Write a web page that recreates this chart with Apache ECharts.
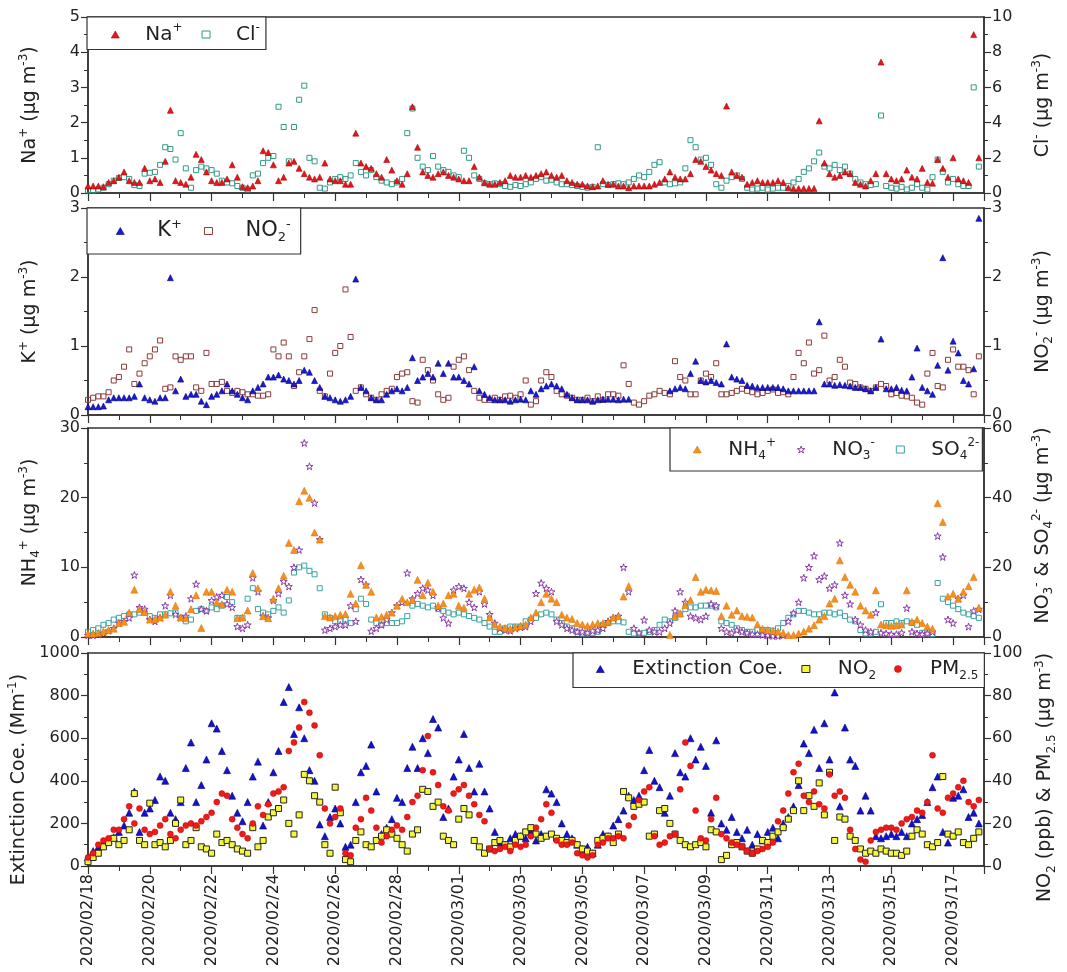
<!DOCTYPE html>
<html>
<head>
<meta charset="utf-8">
<script src="https://cdn.jsdelivr.net/npm/echarts@6/dist/echarts.min.js"></script>
<style>
  html, body { margin: 0; padding: 0; background: #fff; }
  #main { width: 1067px; height: 972px; }
</style>
</head>
<body>
<div id="main"></div>
<script>
var FONT = 'DejaVu Sans';
var TXT = '#222';

// x tick labels (every second day from 2020/02/18)
var dateLabels = ['2020/02/18', '2020/02/20', '2020/02/22', '2020/02/24', '2020/02/26', '2020/02/28',
  '2020/03/01', '2020/03/03', '2020/03/05', '2020/03/07', '2020/03/09', '2020/03/11',
  '2020/03/13', '2020/03/15', '2020/03/17'];

// 4-hourly samples, one row per day starting 2020/02/18 00:00
var naPlus = [
  0.2,0.2,0.2,0.18,0.3,0.35,
  0.45,0.6,0.35,0.3,0.3,0.7,
  0.35,0.4,0.3,0.9,2.35,0.35,
  0.3,0.25,0.45,1.1,0.95,0.6,
  0.35,0.3,0.3,0.4,0.8,0.45,
  0.18,0.15,0.2,0.35,1.2,1.15,
  0.8,0.35,0.45,0.85,0.9,0.7,
  0.55,0.45,0.4,0.45,0.85,0.4,
  0.35,0.35,0.25,0.25,1.7,0.85,
  0.75,0.7,0.55,0.45,0.95,0.65,
  0.35,0.25,0.55,2.45,1.3,0.6,
  0.5,0.45,0.55,0.6,0.5,0.45,
  0.4,0.35,0.35,0.75,0.45,0.3,
  0.25,0.25,0.3,0.35,0.5,0.45,
  0.45,0.5,0.45,0.5,0.55,0.6,
  0.5,0.45,0.5,0.35,0.3,0.25,
  0.25,0.2,0.18,0.2,0.35,0.25,
  0.25,0.2,0.2,0.15,0.2,0.2,
  0.2,0.2,0.25,0.3,0.4,0.6,
  0.45,0.4,0.4,0.55,0.95,0.9,
  0.75,0.65,0.55,0.5,2.47,0.6,
  0.5,0.45,0.25,0.3,0.35,0.3,
  0.3,0.3,0.35,0.3,0.15,0.13,
  0.13,0.13,0.13,0.13,2.05,0.85,
  0.55,0.45,0.5,0.6,0.55,0.3,
  0.25,0.2,0.35,0.55,3.72,0.55,
  0.4,0.35,0.4,0.65,0.45,0.4,
  0.7,0.3,0.28,0.95,0.7,0.45,
  1.0,0.4,0.35,0.3,4.5,1.0
];

var clMinus = [
  0.15,0.15,0.2,0.3,0.5,0.7,
  0.85,0.9,0.8,0.45,0.4,1.1,
  1.15,1.2,1.6,2.6,2.5,1.9,
  3.4,1.4,0.3,1.3,1.5,1.4,
  1.3,1.1,0.7,0.6,0.55,0.4,
  0.3,0.2,1.0,1.1,1.7,2.0,
  2.1,4.9,3.75,1.8,3.75,5.3,
  6.1,2.0,1.8,0.3,0.25,0.6,
  0.8,0.9,0.8,1.0,1.7,1.2,
  1.0,1.3,0.9,0.7,0.6,0.5,
  0.6,0.8,3.4,4.8,2.0,1.5,
  1.3,2.1,1.5,1.3,1.2,1.0,
  0.9,2.4,2.0,1.0,0.8,0.55,
  0.5,0.55,0.5,0.4,0.35,0.45,
  0.4,0.5,0.6,0.8,0.9,0.7,
  0.75,0.6,0.5,0.5,0.45,0.4,
  0.35,0.3,0.35,2.6,0.5,0.45,
  0.5,0.55,0.5,0.6,0.8,1.0,
  0.9,1.2,1.6,1.75,0.6,0.5,
  0.55,0.6,1.4,3.0,2.6,1.9,
  2.0,1.6,0.5,0.3,0.7,0.9,
  1.0,0.8,0.3,0.2,0.25,0.3,
  0.2,0.25,0.3,0.3,0.4,0.6,
  0.8,1.2,1.4,1.8,2.3,1.5,
  1.4,1.6,1.3,1.5,1.1,0.8,
  0.6,0.5,0.45,0.5,4.4,0.4,
  0.3,0.25,0.35,0.2,0.3,0.5,
  0.3,0.2,0.9,1.9,1.2,0.6,
  0.8,0.5,0.4,0.4,6.0,1.5
];

var kPlus = [
  0.12,0.12,0.12,0.13,0.22,0.25,
  0.25,0.25,0.25,0.27,0.45,0.25,
  0.22,0.2,0.25,0.25,1.99,0.35,
  0.52,0.27,0.3,0.3,0.2,0.15,
  0.27,0.3,0.35,0.45,0.35,0.3,
  0.25,0.22,0.35,0.4,0.45,0.55,
  0.55,0.58,0.52,0.5,0.45,0.5,
  0.65,0.62,0.5,0.4,0.27,0.25,
  0.22,0.2,0.22,0.27,1.97,0.4,
  0.35,0.25,0.22,0.22,0.3,0.35,
  0.38,0.35,0.4,0.83,0.5,0.55,
  0.6,0.55,0.75,0.6,0.75,0.55,
  0.55,0.5,0.45,0.7,0.35,0.3,
  0.25,0.22,0.22,0.22,0.2,0.22,
  0.23,0.22,0.35,0.3,0.38,0.42,
  0.45,0.42,0.38,0.3,0.25,0.22,
  0.22,0.22,0.2,0.22,0.23,0.23,
  0.23,0.22,0.23,0.23,null,null,
  null,null,null,null,null,0.35,
  0.38,0.4,0.38,0.6,0.78,0.5,
  0.48,0.5,0.47,0.45,1.03,0.55,
  0.52,0.5,0.43,0.42,0.4,0.4,
  0.4,0.4,0.4,0.38,0.35,0.35,
  0.35,0.35,0.35,0.35,1.35,0.45,
  0.45,0.43,0.44,0.43,0.42,0.4,
  0.4,0.38,0.35,0.4,1.1,0.38,
  0.38,0.4,0.36,0.35,0.55,0.97,
  0.4,0.35,0.3,0.72,2.28,0.65,
  1.07,0.9,0.5,0.45,0.67,2.85
];

var no2Minus = [
  0.22,0.25,0.27,0.27,0.33,0.5,
  0.55,0.7,0.95,0.45,0.6,0.75,
  0.85,0.95,1.08,0.38,0.4,0.85,
  0.8,0.85,0.85,0.4,0.35,0.9,
  0.45,0.45,0.48,0.35,0.32,0.35,
  0.33,0.3,0.3,0.28,0.28,0.3,
  0.95,0.85,1.05,0.85,0.42,0.62,
  0.85,1.1,1.52,0.35,0.27,0.6,
  0.9,1.0,1.82,1.13,0.35,0.4,
  0.3,0.25,0.22,0.3,0.35,0.38,
  0.55,0.6,0.62,0.2,0.18,0.8,
  0.65,0.5,0.3,0.22,0.25,0.7,
  0.8,0.85,0.65,0.35,0.25,0.22,
  0.22,0.25,0.22,0.27,0.28,0.25,
  0.3,0.5,0.15,0.2,0.5,0.62,
  0.55,0.35,0.3,0.28,0.25,0.22,
  0.22,0.25,0.2,0.27,0.22,0.3,
  0.3,0.28,0.72,0.45,0.18,0.15,
  0.2,0.28,0.3,0.35,0.32,0.3,
  0.78,0.55,0.5,0.3,0.3,0.5,
  0.6,0.55,0.75,0.3,0.3,0.32,
  0.35,0.38,0.35,0.33,0.3,0.32,
  0.35,0.37,0.32,0.33,0.3,0.55,
  0.9,0.75,1.05,0.6,0.65,1.15,
  0.5,0.55,0.8,0.7,0.47,0.45,
  0.4,0.38,0.35,0.4,0.45,0.42,
  0.3,0.32,0.28,0.27,0.25,0.18,
  0.15,0.6,0.9,0.42,0.4,0.8,
  0.95,0.7,0.7,0.65,0.3,0.85
];

var nh4Plus = [
  0.5,0.5,0.6,0.8,1.0,1.2,
  2.0,2.2,3.5,6.8,4.0,3.6,
  2.5,2.6,2.8,3.2,6.5,4.5,
  2.8,2.7,4.0,6.0,1.3,6.5,
  6.5,5.0,4.7,6.8,6.5,2.7,
  2.8,3.8,9.2,7.0,3.0,2.7,
  5.5,7.0,8.8,13.5,12.5,19.5,
  21.0,20.0,15.0,14.0,3.0,2.8,
  3.0,3.2,3.3,6.2,4.8,10.3,
  7.5,6.5,2.8,2.9,3.2,3.5,
  4.5,5.5,5.0,5.3,8.2,6.0,
  7.8,6.5,4.5,4.8,6.0,6.2,
  4.5,4.2,6.2,6.8,7.1,5.5,
  2.8,1.8,1.5,1.3,1.2,1.4,
  1.6,1.8,2.8,3.5,5.0,6.2,
  5.5,5.0,3.2,2.8,2.6,2.0,
  1.8,1.6,1.8,2.0,2.0,2.2,
  2.8,3.0,5.8,7.3,null,null,
  null,null,null,null,null,0.3,
  3.0,3.4,4.6,5.3,8.6,6.5,
  6.8,6.7,6.6,3.0,4.5,3.2,
  3.8,3.0,2.9,2.8,1.8,1.2,
  1.0,0.9,0.8,0.6,0.3,0.3,
  0.5,0.8,1.2,1.7,2.5,3.0,
  4.8,5.5,11.0,8.6,7.5,6.5,
  4.5,3.8,3.2,6.7,1.8,1.7,
  1.6,1.7,1.8,6.7,2.2,2.5,
  2.0,1.5,1.2,19.2,16.5,5.8,
  6.2,5.5,6.5,7.3,8.6,4.2
];

var no3Minus = [
  0.5,0.5,0.8,1.2,1.8,2.5,
  4.0,4.5,5.5,17.8,8.5,8.0,
  5.0,4.5,5.5,9.0,12.0,6.5,
  5.5,6.0,11.0,15.2,8.0,7.5,
  10.5,11.5,12.0,9.5,8.5,3.0,
  2.5,3.5,17.0,13.0,6.0,5.5,
  10.5,12.5,16.0,14.5,20.0,25.0,
  55.7,49.0,38.5,28.0,2.0,2.5,
  3.0,3.5,3.5,9.0,4.5,16.5,
  15.0,1.7,2.5,3.5,5.0,7.0,
  9.0,10.0,18.4,11.0,12.5,14.0,
  13.5,12.0,8.5,5.5,4.0,13.5,
  14.5,14.0,10.0,8.5,13.0,9.5,
  6.5,4.0,2.5,2.0,1.8,2.5,
  2.8,3.0,4.5,12.5,15.5,14.0,
  13.0,4.5,3.5,2.5,2.0,1.5,
  1.5,1.2,1.8,2.0,2.5,4.5,
  5.5,6.0,20.0,13.0,2.5,1.2,
  4.9,2.0,1.5,1.5,2.5,4.0,
  7.5,13.0,10.0,6.0,5.5,5.0,
  6.0,9.5,9.0,2.5,1.5,1.2,
  2.0,1.5,1.2,0.8,0.8,0.6,
  0.5,0.3,0.3,0.5,4.5,6.9,
  10.0,17.0,20.0,23.3,16.5,17.5,
  14.0,15.0,27.0,12.0,9.5,5.0,
  3.5,2.0,1.5,7.0,1.2,1.0,
  0.8,0.8,1.2,8.3,1.5,1.0,
  0.8,1.0,1.5,29.0,23.0,5.0,
  4.0,11.0,12.0,3.0,7.5,8.0
];

var so4 = [
  1.5,2.0,2.5,3.5,4.0,5.0,
  5.5,6.0,6.5,6.5,7.0,7.0,
  6.0,5.5,6.5,6.5,6.8,7.0,
  5.5,4.5,5.0,7.5,8.0,7.5,
  8.5,8.0,9.0,11.5,10.0,5.5,
  5.5,11.0,14.0,8.0,7.0,6.5,
  7.5,8.5,7.0,10.5,18.5,20.0,
  20.5,19.0,18.0,14.0,6.5,5.5,
  4.5,4.5,5.0,4.0,8.0,11.0,
  9.5,5.0,4.0,3.5,4.0,4.0,
  4.0,4.5,6.0,9.0,9.5,9.0,
  8.5,9.0,8.0,7.5,7.0,6.5,
  7.0,6.5,6.0,5.5,5.0,4.0,
  3.0,1.5,1.5,2.5,3.0,3.0,
  3.0,4.5,5.0,5.5,6.5,7.0,
  6.5,5.0,4.0,3.0,2.5,1.5,
  1.0,1.0,1.2,1.5,3.5,4.0,
  4.5,4.5,4.2,1.5,1.0,1.0,
  1.2,1.5,2.0,3.5,5.0,4.5,
  5.5,6.5,8.0,8.5,8.5,9.0,
  9.0,9.0,8.5,4.5,4.0,3.5,
  2.5,2.0,1.5,1.5,2.0,2.0,
  2.0,1.8,2.5,4.0,5.5,6.5,
  7.5,7.5,7.0,6.5,6.5,7.0,
  7.0,6.5,7.0,6.0,5.0,4.5,
  2.0,1.0,1.0,1.5,9.4,4.0,
  4.0,4.5,4.0,4.5,4.0,3.5,
  1.2,1.0,0.8,15.5,11.0,10.0,
  9.0,8.0,7.0,6.5,6.0,5.5
];

var extCoe = [
  40,70,90,110,120,135,
  160,190,250,350,160,250,
  270,310,420,400,250,220,
  300,460,580,300,380,500,
  670,645,540,450,330,250,
  210,300,420,490,190,300,
  440,540,770,840,620,745,
  600,450,400,195,140,230,
  270,200,90,100,300,440,
  470,570,350,150,180,220,
  320,300,460,560,460,600,
  530,690,650,230,270,420,
  500,620,460,350,480,350,
  270,160,110,100,130,150,
  140,130,160,120,150,360,
  340,300,200,150,130,100,
  80,90,60,100,150,140,
  190,220,260,330,310,330,
  450,545,400,370,250,330,
  530,440,420,600,500,560,
  470,250,590,200,170,230,
  160,130,170,100,150,120,
  160,180,130,200,230,280,
  380,575,530,640,460,670,
  500,815,280,650,500,470,
  260,330,260,140,130,140,
  150,140,160,140,200,220,
  240,300,370,420,160,110,
  320,330,360,230,250,200
];

var no2Gas = [
  2,4,6,9,11,13,
  10,12,17,34,12,10,
  29.5,10,11,9,12,20,
  31,10,12,18,9,8,
  6,15,11,12,10,8,
  7,6,18,9,12,23,
  25,27,31,20,15,24,
  43,40,33,30,10,6,
  37,25,3,2,12,16,
  10,9,12,14,17,15,
  13,10,7,15,17,36,
  35,28,30,14,12,10,
  22,27,24,12,9,6,
  8,11,12,10,9,12,
  14,16,18,15,13,14,
  15,13,12,11,12,10,
  8,7,6,12,13,14,
  11,15,35,32,28,29,
  30,14,15,26,27,20,
  15,12,10,9,10,11,
  9,17,16,3,5,10,
  11,9,7,6,8,12,
  11,14,16,18,22,26,
  40,26,33,28,39,24,
  44,12,23,22,14,12,
  8,6,7,6,8,7,
  6,6,5,7,14,17,
  15,10,9,11,42,15,
  14,16,11,10,13,16
];

var pm25 = [
  4,6,10,12,13,17,
  17,22,28,20,27,17,
  15,16,19,22,15,13,
  17,19,20,19,21,23,
  25,30,34,33,22,18,
  15,13,20,28,24,29,
  34,35,37,54,58,65,
  77,72,66,52,27,20,
  23,27,6,5,18,22,
  32,26,18,11,14,17,
  19,17,23,30,33,45,
  61,44,38,28,26,34,
  36,38,33,29,24,21,
  8,7,8,9,7,10,
  9,10,14,18,22,29,
  25,12,10,10,11,6,
  5,4,5,10,11,13,
  13,14,13,19,23,31,
  35,37,14,10,11,14,
  15,36,58,47,26,13,
  12,22,32,15,13,11,
  10,9,7,6,7,8,
  9,11,21,26,34,44,
  48,33,30,35,29,27,
  43,33,35,32,17,8,
  3,2,12,16,17,18,
  18,17,20,22,23,26,
  25,30,52,27,25,32,
  34,37,40,30,28,31
];

var STEP = 4 / 24; // days between samples
var STAR = 'path://M50 0L61.8 35.1L98.9 35.1L68.9 56.8L80.3 91.9L50 70.2L19.7 91.9L31.1 56.8L1.1 35.1L38.2 35.1Z';

var labelRich = {
  'Na+': '{t|Na}{sup|+}',
  'Cl-': '{t|Cl}{sup|-}',
  'K+': '{t|K}{sup|+}',
  'NO2-': '{t|NO}{sub|2}{sup|-}',
  'NH4+': '{t|NH}{sub|4}{sup|+}',
  'NO3-': '{t|NO}{sub|3}{sup|-}',
  'SO42-': '{t|SO}{sub|4}{sup|2-}',
  'Ext': '{t|Extinction Coe.}',
  'NO2': '{t|NO}{sub|2}',
  'PM25': '{t|PM}{sub|2.5}'
};

var styles = {
  'Na+':   { symbol: 'triangle', size: 6, color: '#e8141b', border: '#a10a0a', bw: 0.6 },
  'Cl-':   { symbol: 'rect', size: 5, color: 'rgba(255,255,255,0)', border: '#2f9b88', bw: 1 },
  'K+':    { symbol: 'triangle', size: 6, color: '#1a1ad6', border: '#00007a', bw: 0.6 },
  'NO2-':  { symbol: 'rect', size: 5, color: 'rgba(255,255,255,0)', border: '#8c3b3b', bw: 1 },
  'NH4+':  { symbol: 'triangle', size: 7, color: '#f5901e', border: '#d86f00', bw: 0.5 },
  'NO3-':  { symbol: STAR, size: 7, color: '#ffffff', border: '#8a3aa8', bw: 1 },
  'SO42-': { symbol: 'rect', size: 5, color: 'rgba(255,255,255,0)', border: '#39a3a3', bw: 1 },
  'Ext':   { symbol: 'triangle', size: 7, color: '#1212d0', border: '#00006e', bw: 0.6 },
  'NO2':   { symbol: 'rect', size: 6, color: '#f7f73a', border: '#222222', bw: 1 },
  'PM25':  { symbol: 'circle', size: 6, color: '#ee1b1b', border: '#c00000', bw: 0.5 }
};

function richSet(fs) {
  var small = Math.round(fs * 0.62);
  return {
    t: { fontSize: fs, lineHeight: fs + 5, fontFamily: FONT, color: TXT },
    sup: { fontSize: small, lineHeight: small, verticalAlign: 'top', fontFamily: FONT, color: TXT },
    sub: { fontSize: small, lineHeight: small - 2, verticalAlign: 'bottom', fontFamily: FONT, color: TXT }
  };
}

function pairs(arr) {
  var out = [];
  arr.forEach(function (v, i) {
    if (v !== null) out.push([i * STEP, v]);
  });
  return out;
}

function scat(name, xi, yi, arr) {
  var s = styles[name];
  return {
    name: name,
    type: 'scatter',
    xAxisIndex: xi,
    yAxisIndex: yi,
    data: pairs(arr),
    symbol: s.symbol,
    symbolSize: s.size,
    itemStyle: { color: s.color, borderColor: s.border, borderWidth: s.bw, opacity: 1 },
    emphasis: { disabled: true },
    animation: false
  };
}

function makeLegend(names, left, top, padding, gap, textPad, fs) {
  return {
    data: names.map(function (n) {
      var s = styles[n];
      return { name: n, icon: s.symbol, itemStyle: { color: s.color, borderColor: s.border, borderWidth: s.bw } };
    }),
    left: left,
    top: top,
    orient: 'horizontal',
    padding: padding,
    itemGap: gap,
    itemWidth: 8,
    itemHeight: 7,
    selectedMode: false,
    borderColor: '#333',
    borderWidth: 1.2,
    borderRadius: 0,
    backgroundColor: '#fff',
    z: 10,
    formatter: function (n) { return labelRich[n]; },
    textStyle: { padding: [0, 0, 0, textPad], fontFamily: FONT, fontSize: fs, color: TXT, rich: richSet(fs) }
  };
}

var axisColor = '#333';

function xAx(i) {
  return {
    type: 'value',
    gridIndex: i,
    min: 0,
    max: 29,
    interval: 2,
    axisLine: { show: true, onZero: false, lineStyle: { color: axisColor, width: 1.5 } },
    axisTick: { show: true, inside: false, length: 8, lineStyle: { color: axisColor, width: 1.2 } },
    minorTick: { show: true, splitNumber: 2, length: 5, lineStyle: { color: axisColor, width: 1 } },
    splitLine: { show: false },
    minorSplitLine: { show: false },
    axisLabel: {
      show: i === 3,
      rotate: 90,
      margin: 8,
      fontFamily: FONT,
      fontSize: 16,
      color: TXT,
      showMaxLabel: false,
      formatter: function (v) {
        var k = Math.round(v / 2);
        return (Math.abs(v - k * 2) < 1e-6 && dateLabels[k]) ? dateLabels[k] : '';
      }
    }
  };
}

function yAx(grid, pos, max, interval, name, pad) {
  return {
    type: 'value',
    gridIndex: grid,
    position: pos,
    min: 0,
    max: max,
    interval: interval,
    axisLine: { show: true, onZero: false, lineStyle: { color: axisColor, width: 1.5 } },
    axisTick: { show: true, inside: false, length: 7, lineStyle: { color: axisColor, width: 1.2 } },
    minorTick: { show: true, splitNumber: 2, length: 4, lineStyle: { color: axisColor, width: 1 } },
    splitLine: { show: false },
    axisLabel: {
      margin: 8, fontFamily: FONT, fontSize: 16, color: TXT,
      formatter: function (v) { return String(v); }
    },
    name: name,
    nameLocation: 'middle',
    nameRotate: 90,
    nameGap: pos === 'left' ? 46 : 47,
    nameTextStyle: { fontFamily: FONT, fontSize: 19, color: TXT, padding: pad || 0, rich: richSet(19) }
  };
}

var unit = '{t| (μg m}{sup|-3}{t|)}';

var chartDom = document.getElementById('main');
var myChart = echarts.init(chartDom);

var option = {
  animation: false,
  backgroundColor: '#fff',
  grid: [
    { left: 88, top: 17, width: 896, height: 176 },
    { left: 88, top: 208, width: 896, height: 207 },
    { left: 88, top: 428, width: 896, height: 209 },
    { left: 88, top: 653, width: 896, height: 213 }
  ].map(function (g) {
    g.show = true;
    g.borderColor = axisColor;
    g.borderWidth = 1.5;
    g.backgroundColor = 'transparent';
    g.containLabel = false;
    g.outerBoundsMode = 'none';
    return g;
  }),
  legend: [
    makeLegend(['Na+', 'Cl-'], 87, 17, [5, 6, 5, 24], 19, 21, 20),
    makeLegend(['K+', 'NO2-'], 87, 208, [10, 10, 10, 29], 22, 28, 21),
    makeLegend(['NH4+', 'NO3-', 'SO42-'], 670, 428, [9, 3, 9, 23], 21, 22, 20),
    makeLegend(['Ext', 'NO2', 'PM25'], 573, 653, [6, 6, 6, 23], 18, 23, 20)
  ],
  xAxis: [xAx(0), xAx(1), xAx(2), xAx(3)],
  yAxis: [
    yAx(0, 'left', 5, 1, '{t|Na}{sup|+}' + unit),
    yAx(0, 'right', 10, 2, '{t|Cl}{sup|-}' + unit),
    yAx(1, 'left', 3, 1, '{t|K}{sup|+}' + unit),
    yAx(1, 'right', 3, 1, '{t|NO}{sub|2}{sup|-}' + unit),
    yAx(2, 'left', 30, 10, '{t|NH}{sub|4}{sup|+}' + unit, [0, 0, 0, 20]),
    yAx(2, 'right', 60, 20, '{t|NO}{sub|3}{sup|-}{t| & SO}{sub|4}{sup|2-}' + unit, [0, 0, 0, 14]),
    yAx(3, 'left', 1000, 200, '{t|Extinction Coe. (Mm}{sup|-1}{t|)}', [0, 40, 0, 0]),
    yAx(3, 'right', 100, 20, '{t|NO}{sub|2}{t| (ppb) & PM}{sub|2.5}' + unit, [0, 36, 0, 0])
  ],
  series: [
    scat('Cl-', 0, 1, clMinus),
    scat('Na+', 0, 0, naPlus),
    scat('NO2-', 1, 3, no2Minus),
    scat('K+', 1, 2, kPlus),
    scat('SO42-', 2, 5, so4),
    scat('NO3-', 2, 5, no3Minus),
    scat('NH4+', 2, 4, nh4Plus),
    scat('Ext', 3, 6, extCoe),
    scat('NO2', 3, 7, no2Gas),
    scat('PM25', 3, 7, pm25)
  ]
};

option && myChart.setOption(option);
</script>
</body>
</html>
